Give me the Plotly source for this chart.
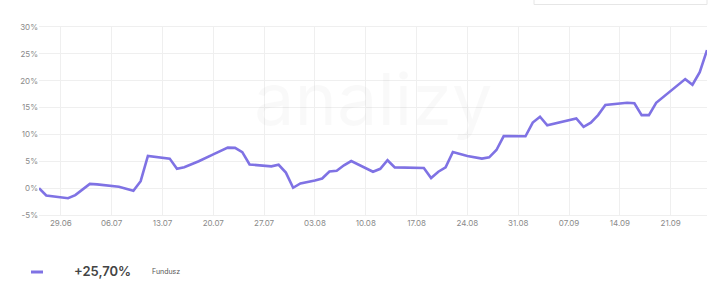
import plotly.graph_objects as go

dates = ["2020-06-26", "2020-06-27", "2020-06-30", "2020-07-01", "2020-07-03", "2020-07-04",
         "2020-07-07", "2020-07-09", "2020-07-10", "2020-07-11", "2020-07-14", "2020-07-15",
         "2020-07-16", "2020-07-18", "2020-07-20", "2020-07-22", "2020-07-23", "2020-07-24",
         "2020-07-25", "2020-07-27", "2020-07-28", "2020-07-29", "2020-07-30", "2020-07-31",
         "2020-08-01", "2020-08-03", "2020-08-04", "2020-08-05", "2020-08-06", "2020-08-07",
         "2020-08-08", "2020-08-11", "2020-08-12", "2020-08-13", "2020-08-14", "2020-08-18",
         "2020-08-19", "2020-08-20", "2020-08-21", "2020-08-22", "2020-08-24", "2020-08-26",
         "2020-08-27", "2020-08-28", "2020-08-29", "2020-09-01", "2020-09-02", "2020-09-03",
         "2020-09-04", "2020-09-08", "2020-09-09", "2020-09-10", "2020-09-11", "2020-09-12",
         "2020-09-15", "2020-09-16", "2020-09-17", "2020-09-18", "2020-09-19", "2020-09-23",
         "2020-09-24", "2020-09-25", "2020-09-26"]
values = [0.0, -1.36, -1.87, -1.3, 0.8, 0.7,
          0.26, -0.5, 1.3, 6.0, 5.5, 3.6,
          3.9, 5.0, 6.3, 7.55, 7.5, 6.7,
          4.4, 4.2, 4.05, 4.35, 2.9, 0.07,
          0.88, 1.44, 1.8, 3.1, 3.25, 4.25,
          5.05, 3.06, 3.6, 5.2, 3.87, 3.74,
          1.87, 3.06, 3.87, 6.73, 6.0, 5.5,
          5.74, 7.1, 9.7, 9.66, 12.2, 13.3,
          11.7, 12.97, 11.4, 12.2, 13.6, 15.5,
          15.9, 15.8, 13.6, 13.6, 15.9, 20.3,
          19.25, 21.6, 25.7]

series_name = "Fundusz"
tick_dates = ["2020-06-29", "2020-07-06", "2020-07-13", "2020-07-20", "2020-07-27", "2020-08-03",
              "2020-08-10", "2020-08-17", "2020-08-24", "2020-08-31", "2020-09-07", "2020-09-14",
              "2020-09-21"]
y_ticks = [-5, 0, 5, 10, 15, 20, 25, 30]
y_labels = [f"{v}%" for v in y_ticks]

LINE = "#7f72e4"
GRID = "#efefef"
FONT = "Inter"

fig = go.Figure()
fig.add_trace(go.Scatter(x=dates, y=values, mode="lines",
                         line=dict(color=LINE, width=2.6), name=series_name,
                         hoverinfo="skip", showlegend=False))

fig.update_layout(
    width=720, height=293,
    margin=dict(l=39, r=13, t=27, b=78),
    paper_bgcolor="white", plot_bgcolor="white",
    font=dict(family=FONT, size=8, color="#8a8a8a"),
    xaxis=dict(range=["2020-06-26", "2020-09-26"], tickvals=tick_dates, tickformat="%d.%m",
               showgrid=True, gridcolor=GRID, gridwidth=1, zeroline=False,
               showline=True, linecolor=GRID, mirror=True, ticks="", ticklen=0,
               tickfont=dict(size=8, color="#8a8a8a")),
    yaxis=dict(range=[-5, 30], tickvals=y_ticks, ticktext=y_labels,
               showgrid=True, gridcolor=GRID, gridwidth=1, zeroline=False,
               showline=False, ticks="", tickfont=dict(size=8, color="#8a8a8a")),
    showlegend=False,
)

# faint watermark
fig.add_annotation(x=0.5, y=0.62, xref="paper", yref="paper", text="analizy",
                   showarrow=False, font=dict(family=FONT, size=72, color="rgba(0,0,0,0.022)"))

# top-right input box edge
fig.add_shape(type="rect", xref="paper", yref="paper", x0=(534 - 39) / 668, x1=1.0,
              y0=(293 - 78 - 4.5) / 188, y1=(293 - 78 + 20) / 188,
              line=dict(color="#e6e6e6", width=1), fillcolor="white", layer="above")

# bottom legend
last = values[-1]
label = ("+" if last >= 0 else "") + f"{last:.2f}".replace(".", ",") + "%"
fig.add_shape(type="line", xref="paper", yref="paper",
              x0=(31 - 39) / 668, x1=(43 - 39) / 668,
              y0=-(272 - 215) / 188, y1=-(272 - 215) / 188,
              line=dict(color=LINE, width=3))
fig.add_annotation(x=(72 - 39) / 668, y=-(271 - 215) / 188, xref="paper", yref="paper",
                   xanchor="left", yanchor="middle", text=label, showarrow=False,
                   font=dict(family=FONT, size=13, color="#444444", weight=600))
fig.add_annotation(x=(150 - 39) / 668, y=-(271 - 215) / 188, xref="paper", yref="paper",
                   xanchor="left", yanchor="middle", text=series_name, showarrow=False,
                   font=dict(family=FONT, size=7, color="#555555"))

fig.write_html("out.html")
